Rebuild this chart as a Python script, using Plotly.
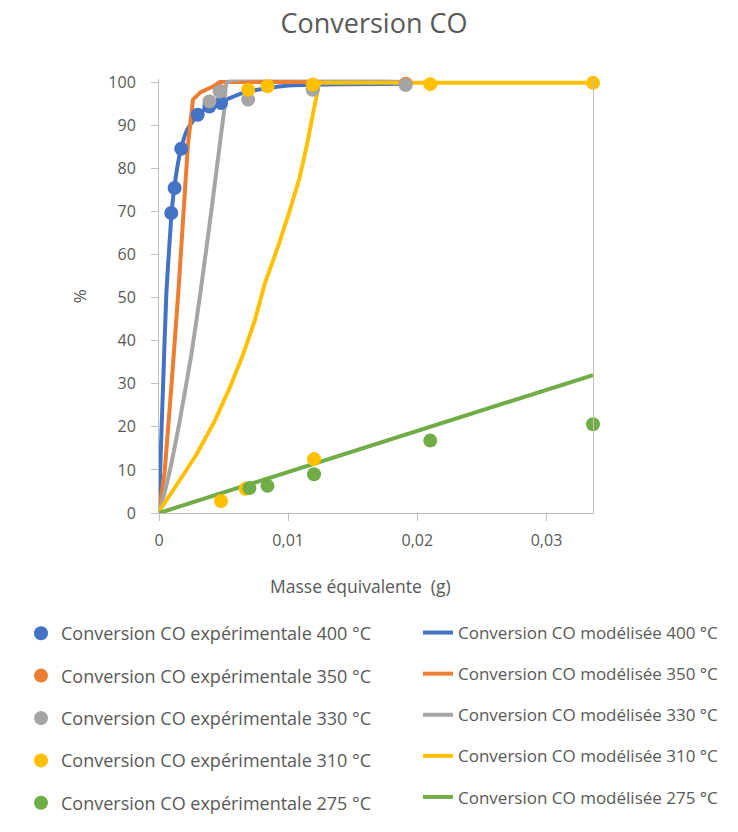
import plotly.graph_objects as go

# ---------------- data ----------------
temps = ["400", "350", "330", "310", "275"]
colors = ["#4472C4", "#ED7D31", "#A5A5A5", "#FFC000", "#70AD47"]

# experimental points
x_exp_400 = [0.00095, 0.00121, 0.00172, 0.0030, 0.0039, 0.0048]
y_exp_400 = [69.6, 75.4, 84.5, 92.4, 94.3, 95.1]
x_exp_350 = [0.0047, 0.0191]
y_exp_350 = [97.9, 99.6]
x_exp_330 = [0.0039, 0.0047, 0.0069, 0.0119, 0.0191]
y_exp_330 = [95.5, 97.8, 95.9, 98.2, 99.3]
x_exp_310 = [0.0048, 0.0067, 0.0069, 0.0084, 0.012, 0.0119, 0.021, 0.0336]
y_exp_310 = [2.8, 5.6, 98.2, 99.0, 12.5, 99.4, 99.5, 99.8]
x_exp_275 = [0.0070, 0.0084, 0.012, 0.021, 0.0336]
y_exp_275 = [5.8, 6.3, 9.0, 16.8, 20.6]

# modelled curves
x_mod_400 = [0, 0.00013, 0.00031, 0.00057, 0.0008, 0.001, 0.0013, 0.0017, 0.0022, 0.003, 0.0039, 0.0048, 0.0066, 0.01, 0.0191]
y_mod_400 = [0, 13.5, 29, 51, 62, 70.5, 78, 84.5, 89, 92.4, 94.4, 95.4, 97.6, 99.2, 99.6]
x_mod_350 = [0, 0.00044, 0.00095, 0.00152, 0.00224, 0.00263, 0.0032, 0.0042, 0.0047, 0.0191]
y_mod_350 = [0, 9.7, 29, 52.2, 85.4, 95.9, 97.6, 99, 100, 100]
x_mod_330 = [0, 0.00018, 0.00083, 0.0016, 0.0025, 0.0032, 0.00405, 0.0047, 0.0051, 0.0053, 0.0191]
y_mod_330 = [0, 1.9, 9.7, 21.3, 36.7, 51, 70, 85.4, 94.7, 100, 100]
x_mod_310 = [0, 0.00018, 0.00121, 0.00289, 0.00431, 0.00547, 0.0065, 0.0074, 0.0082, 0.00926, 0.0101, 0.01088, 0.01145, 0.012, 0.0124, 0.0336]
y_mod_310 = [0, 1.2, 5.8, 13.5, 21.3, 29.0, 36.7, 44.5, 53.3, 62.2, 70, 77.7, 85.4, 93.3, 99.8, 99.8]
x_mod_275 = [0, 0.0048, 0.007, 0.0084, 0.012, 0.021, 0.0336]
y_mod_275 = [0, 4.6, 6.7, 8.0, 11.4, 20.0, 32.0]

x_exp = [x_exp_400, x_exp_350, x_exp_330, x_exp_310, x_exp_275]
y_exp = [y_exp_400, y_exp_350, y_exp_330, y_exp_310, y_exp_275]
x_mod = [x_mod_400, x_mod_350, x_mod_330, x_mod_310, x_mod_275]
y_mod = [y_mod_400, y_mod_350, y_mod_330, y_mod_310, y_mod_275]
smooth = [True, False, True, False, False]

FONT = "Open Sans"
TXT = "#595959"
W, H = 738, 832
M = 60                      # generous uniform margin
WI, HI = W - 2 * M, H - 2 * M
Y_TOP = 100.6               # tiny head-room so lines at 100 are not half clipped
PX_PER_UNIT = (505 - 74) / 100


def px(p):  # page pixel x -> paper fraction
    return (p - M) / WI


def py(p):  # page pixel y -> paper fraction
    return (H - M - p) / HI


fig = go.Figure()

# model lines first (drawn below the points)
for i, t in enumerate(temps):
    line = dict(color=colors[i], width=4)
    if smooth[i]:
        line.update(shape="spline", smoothing=0.5)
    fig.add_trace(go.Scatter(
        x=x_mod[i], y=y_mod[i], mode="lines", line=line,
        name=f"Conversion CO modélisée {t} °C",
        legend="legend2", legendgroup=f"m{t}",
        cliponaxis=False,
    ))

for i, t in enumerate(temps):
    fig.add_trace(go.Scatter(
        x=x_exp[i], y=y_exp[i], mode="markers",
        marker=dict(color=colors[i], size=14),
        name=f"Conversion CO expérimentale {t} °C",
        legend="legend", legendgroup=f"e{t}",
        cliponaxis=False,
    ))

# legends kept fully inside the page (plus Plotly's 12 px pad) so they never push margins
legend_common = dict(
    orientation="v", yanchor="top", xanchor="left",
    bgcolor="rgba(0,0,0,0)", tracegroupgap=16,
)

fig.update_layout(
    width=W, height=H,
    margin=dict(l=M, r=M, t=M, b=M, pad=0),
    paper_bgcolor="white", plot_bgcolor="white",
    separators=", ",
    title=dict(text="Conversion CO", x=366 / W, xref="container", xanchor="center",
               y=1 - 6 / H, yref="container", yanchor="top", automargin=False,
               font=dict(family=FONT, size=27, color=TXT)),
    xaxis=dict(domain=[px(151), px(585)], automargin=False,
               range=[0, 0.0336], dtick=0.01, tick0=0, showgrid=False, zeroline=False,
               showline=True, linecolor="#BFBFBF", linewidth=1,
               ticks="outside", ticklen=7, tickcolor="#BFBFBF",
               ticklabelstandoff=6,
               tickfont=dict(family=FONT, size=16, color=TXT)),
    yaxis=dict(domain=[py(505), py(74 - (Y_TOP - 100) * PX_PER_UNIT)], automargin=False,
               range=[0, Y_TOP], tickvals=list(range(0, 101, 10)),
               showgrid=False, zeroline=False,
               showline=True, linecolor="#BFBFBF", linewidth=1, mirror=True,
               ticks="outside", ticklen=7, tickcolor="#BFBFBF",
               ticklabelstandoff=12,
               tickfont=dict(family=FONT, size=16, color=TXT),
               title=dict(text="%", standoff=17,
                          font=dict(family=FONT, size=17, color=TXT))),
    annotations=[dict(text="Masse équivalente  (g)", xref="paper", yref="paper",
                      x=px(352), y=py(578), xanchor="center", yanchor="middle",
                      showarrow=False, font=dict(family=FONT, size=17.5, color=TXT))],
    legend=dict(x=px(13), y=py(607), itemwidth=30,
                font=dict(family=FONT, size=18, color=TXT), **legend_common),
    legend2=dict(x=px(410), y=py(607),
                 font=dict(family=FONT, size=17, color=TXT), **legend_common),
    showlegend=True,
)

fig.write_html("out.html")
